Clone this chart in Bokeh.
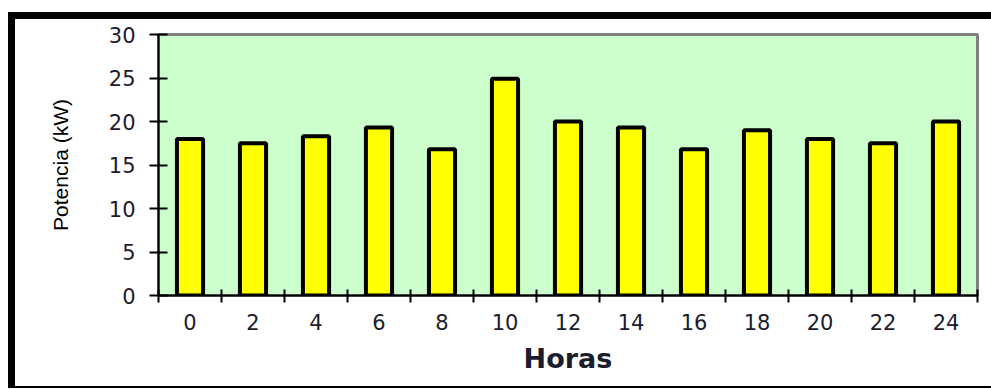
from bokeh.plotting import figure
from bokeh.models import FixedTicker, ColumnDataSource, Range1d
from bokeh.embed import file_html
from bokeh.resources import INLINE

horas = [0, 2, 4, 6, 8, 10, 12, 14, 16, 18, 20, 22, 24]
potencia = [18.0, 17.5, 18.3, 19.3, 16.8, 24.9, 20.0, 19.3, 16.8, 19.0, 18.0, 17.5, 20.0]
y_ticks = [0, 5, 10, 15, 20, 25, 30]

src = ColumnDataSource(data=dict(x=horas, y=potencia))

p = figure(width=976, height=367, output_backend="svg", toolbar_location=None,
           x_range=Range1d(-1, 25), y_range=Range1d(0, 30),
           min_border_left=143, min_border_right=21, min_border_top=15, min_border_bottom=100)

p.styles = {"box-sizing": "content-box", "margin-left": "8px", "margin-top": "12px",
            "border-left": "7px solid black", "border-top": "7px solid black",
            "border-bottom": "2px solid black"}

p.background_fill_color = "#CCFFCC"
p.border_fill_color = "white"
p.outline_line_color = "#808080"
p.outline_line_width = 3
p.grid.visible = False

p.vbar(x="x", top="y", width=0.83, source=src, fill_color="#FFFF00",
       line_color="black", line_width=4)

font = "DejaVu Sans"
tcol = "#1c1c2c"

xa = p.xaxis[0]
xa.ticker = FixedTicker(ticks=horas, minor_ticks=[h - 1 for h in horas] + [25])
xa.major_tick_in = 0
xa.major_tick_out = 0
xa.minor_tick_in = 6
xa.minor_tick_out = 7
xa.minor_tick_line_color = "black"
xa.minor_tick_line_width = 2
xa.axis_line_color = "black"
xa.axis_line_width = 2
xa.major_label_text_font = font
xa.major_label_text_font_size = "21px"
xa.major_label_text_color = tcol
xa.major_label_standoff = 11
xa.axis_label = "Horas"
xa.axis_label_text_font = font
xa.axis_label_text_font_size = "27px"
xa.axis_label_text_font_style = "bold"
xa.axis_label_text_color = tcol
xa.axis_label_standoff = 10

ya = p.yaxis[0]
ya.ticker = FixedTicker(ticks=y_ticks)
ya.minor_tick_line_color = None
ya.major_tick_in = 9
ya.major_tick_out = 9
ya.major_tick_line_color = "black"
ya.major_tick_line_width = 2
ya.axis_line_color = "black"
ya.axis_line_width = 2
ya.major_label_text_font = font
ya.major_label_text_font_size = "21px"
ya.major_label_text_color = tcol
ya.major_label_standoff = 14
ya.axis_label = "Potencia (kW)"
ya.axis_label_text_font = "Liberation Sans"
ya.axis_label_text_font_size = "21px"
ya.axis_label_text_font_style = "normal"
ya.axis_label_text_color = "black"
ya.axis_label_standoff = 34

open("out.html", "w").write(file_html(p, INLINE))
